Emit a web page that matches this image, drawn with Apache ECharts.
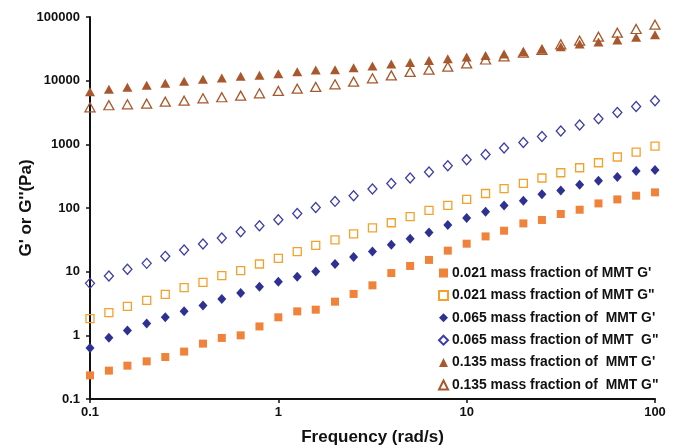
<!DOCTYPE html>
<html>
<head>
<meta charset="utf-8">
<script src="https://cdn.jsdelivr.net/npm/echarts@6.0.0/dist/echarts.min.js"></script>
<style>
  html, body { margin: 0; padding: 0; background: #fff; }
  #chart { width: 680px; height: 446px; }
</style>
</head>
<body>
<div id="chart"></div>
<script>
// angular frequency (rad/s), 10 points per decade
const freq = [
  0.1, 0.126, 0.158, 0.2, 0.251, 0.316, 0.398, 0.501, 0.631, 0.794,
  1, 1.26, 1.58, 2.0, 2.51, 3.16, 3.98, 5.01, 6.31, 7.94,
  10, 12.6, 15.8, 20, 25.1, 31.6, 39.8, 50.1, 63.1, 79.4, 100
]

// 0.021 mass fraction
const g1Storage = [
  0.235, 0.279, 0.334, 0.39, 0.457, 0.555, 0.741, 0.91, 1.0, 1.38,
  1.92, 2.38, 2.53, 3.38, 4.47, 6.1, 9.5, 12.3, 15.3, 21.4,
  27.5, 35.8, 44, 57.3, 64.9, 80.5, 94, 118, 136.5, 156, 176
]
const g1Loss = [
  1.83, 2.27, 2.85, 3.54, 4.4, 5.61, 6.79, 8.65, 10.4, 13.2,
  16.2, 20.6, 25.9, 31.5, 39.1, 48.6, 58.7, 73, 91.6, 110,
  137, 169, 201, 243, 296, 358, 429, 514, 632, 757, 940
]

// 0.065 mass fraction
const g2Storage = [
  0.634, 0.92, 1.19, 1.54, 1.92, 2.38, 2.93, 3.72, 4.63, 5.82,
  6.97, 8.34, 10.1, 13.2, 17, 20.8, 26.5, 33, 41.4, 54,
  69.7, 87.5, 109, 130, 164, 189, 232, 269, 307, 381, 395
]
const g2Loss = [
  6.55, 8.55, 10.9, 13.5, 17.4, 21.9, 27.2, 33.8, 42.5, 52.7,
  65.5, 82.2, 102, 127, 156, 199, 243, 296, 367, 461,
  573, 693, 875, 1072, 1331, 1618, 2010, 2523, 3170, 3940, 4840
]

// 0.135 mass fraction
const g3Storage = [
  6720, 7330, 7870, 8470, 9110, 9790, 10520, 11020, 11720, 12160,
  12880, 13840, 14720, 14900, 16000, 17000, 18200, 19300, 20800, 22000,
  23500, 24800, 26200, 28400, 31100, 34200, 37500, 40500, 43600, 48000, 52700
]
const g3Loss = [
  3820, 4110, 4260, 4350, 4680, 4850, 5290, 5490, 5820, 6340,
  6890, 7480, 7960, 8770, 9640, 10900, 12100, 13700, 14900, 16600,
  18700, 21500, 24000, 27500, 30500, 37300, 42500, 49100, 56700, 64800, 75700
]

const seriesNames = [
  "0.021 mass fraction of MMT G'",
  '0.021 mass fraction of MMT G"',
  "0.065 mass fraction of  MMT G'",
  '0.065 mass fraction of MMT  G"',
  "0.135 mass fraction of  MMT G'",
  '0.135 mass fraction of  MMT G"'
]

const chart = echarts.init(document.getElementById('chart'))

function pairs (values) {
  return freq.map((f, i) => [f, values[i]])
}

// filled marker
function filled (name, values, symbol, size, color) {
  return {
    name: name,
    type: 'scatter',
    symbol: symbol,
    symbolSize: size,
    data: pairs(values),
    itemStyle: { color: color, opacity: 1 },
    emphasis: { disabled: true }
  }
}

// open marker, outline only
function hollow (name, values, symbol, size, color) {
  return {
    name: name,
    type: 'scatter',
    symbol: symbol,
    symbolSize: size,
    data: pairs(values),
    itemStyle: { color: 'rgba(255,255,255,0)', borderColor: color, borderWidth: 1.3, opacity: 1 },
    emphasis: { disabled: true }
  }
}

const font = 'Arial, "Liberation Sans", sans-serif'
const logLabel = (v) => String(+Number(v).toPrecision(6))

const option = {
  animation: false,
  backgroundColor: '#fff',
  grid: { left: 90, right: 25, top: 17, bottom: 47, outerBoundsMode: 'none', containLabel: false },
  legend: {
    orient: 'vertical',
    left: 433,
    top: 261,
    itemWidth: 9,
    itemHeight: 9,
    itemGap: 8.4,
    data: seriesNames,
    textStyle: { fontFamily: font, fontWeight: 'bold', fontSize: 13.9, color: '#111', padding: [0, 0, 0, -1] }
  },
  xAxis: {
    type: 'log',
    logBase: 10,
    min: 0.1,
    max: 100,
    name: 'Frequency (rad/s)',
    nameLocation: 'middle',
    nameGap: 30,
    nameMoveOverlap: false,
    nameTextStyle: { fontFamily: font, fontWeight: 'bold', fontSize: 17, color: '#111' },
    axisLine: { lineStyle: { color: '#111', width: 2 } },
    axisTick: { show: true, length: 4, lineStyle: { color: '#111', width: 1.5 } },
    minorTick: { show: false },
    splitLine: { show: false },
    axisLabel: { formatter: logLabel, margin: 7, fontFamily: font, fontWeight: 'bold', fontSize: 13, color: '#111' }
  },
  yAxis: {
    type: 'log',
    logBase: 10,
    min: 0.1,
    max: 100000,
    name: "G' or G''(Pa)",
    nameLocation: 'middle',
    nameGap: 55,
    nameMoveOverlap: false,
    nameTextStyle: { fontFamily: font, fontWeight: 'bold', fontSize: 17, color: '#111' },
    axisLine: { show: true, lineStyle: { color: '#111', width: 2 } },
    axisTick: { show: true, length: 4, lineStyle: { color: '#111', width: 1.5 } },
    minorTick: { show: false },
    splitLine: { show: false },
    axisLabel: { formatter: logLabel, margin: 10, fontFamily: font, fontWeight: 'bold', fontSize: 13, color: '#111' }
  },
  series: [
    filled(seriesNames[0], g1Storage, 'rect', 8, '#F0823A'),
    hollow(seriesNames[1], g1Loss, 'rect', 8, '#F4A12C'),
    filled(seriesNames[2], g2Storage, 'diamond', [9, 10], '#2E3192'),
    hollow(seriesNames[3], g2Loss, 'diamond', [9, 10], '#3D3DA6'),
    filled(seriesNames[4], g3Storage, 'triangle', [10, 9], '#A8582C'),
    hollow(seriesNames[5], g3Loss, 'triangle', [10, 9], '#A8582C')
  ]
}

chart.setOption(option)
</script>
</body>
</html>
